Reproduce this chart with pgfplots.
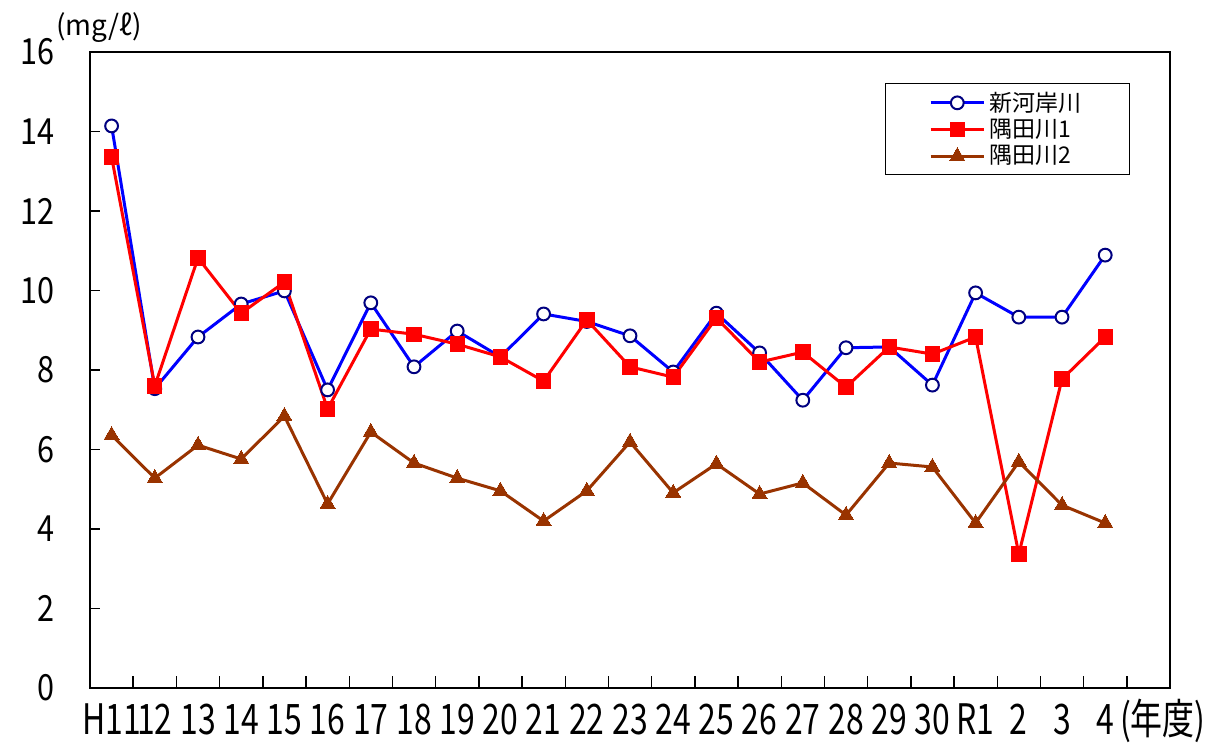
\documentclass[border=0pt]{standalone}
\usepackage{fontspec}
\setmainfont{Noto Sans CJK JP}
\newfontfamily\narrowfont{Noto Sans CJK JP}[FakeStretch=0.85]
\newfontfamily\xnarrowfont{Noto Sans CJK JP}[FakeStretch=0.76]
\usepackage{pgfplots}
\pgfplotsset{compat=1.18}
\definecolor{lblue}{RGB}{0,0,255}
\definecolor{lnavy}{RGB}{0,0,128}
\definecolor{lred}{RGB}{255,0,0}
\definecolor{lbrown}{RGB}{153,51,0}
\begin{document}
\begin{tikzpicture}
\useasboundingbox (-45pt,-28.5pt) rectangle (561.5pt,344pt);
\begin{axis}[
  at={(0,0)}, anchor=south west,
  scale only axis, width=540pt, height=318pt,
  xmin=-0.5, xmax=24.5, ymin=0, ymax=16,
  axis line style={line width=1.2pt},
  xtick={0,...,23},
  xticklabels={H11,12,13,14,15,16,17,18,19,20,21,22,23,24,25,26,27,28,29,30,R1,2,3,4\rlap{\hspace{3pt}(年度)}},
  minor xtick={0.5,1.5,...,23.5},
  x tick style={draw=none},
  minor x tick style={draw=black, line width=0.7pt},
  minor tick length=6pt,
  ytick={0,2,...,16},
  y tick style={draw=black, line width=0.7pt},
  major tick length=5pt,
  tick align=inside,
  xtick pos=bottom, ytick pos=left,
  /pgf/number format/assume math mode=true,
  xticklabel style={font=\xnarrowfont\fontsize{21}{24}\selectfont, text height=15pt, text depth=0pt, inner ysep=0pt, yshift=-8pt},
  yticklabel style={font=\narrowfont\fontsize{18}{20}\selectfont, xshift=-14pt},
  clip=false,
  legend style={at={(0.963,0.951)}, anchor=north east, draw=black, line width=0.5pt,
    font=\fontsize{11.5}{13}\selectfont, row sep=-1.5pt, inner xsep=22pt, inner ysep=2pt},
  legend cell align=left,
  legend image code/.code={\draw[mark repeat=2,mark phase=2] plot coordinates {(0cm,0cm) (0.47cm,0cm) (0.94cm,0cm)};},
]
\addplot[color=lblue, line width=1.5pt, mark=*, mark size=3.2pt, mark options={fill=white, draw=lnavy, line width=1pt}]
coordinates {(0,14.14)(1,7.53)(2,8.83)(3,9.66)(4,9.99)(5,7.50)(6,9.69)(7,8.08)(8,8.98)(9,8.33)(10,9.41)(11,9.22)(12,8.86)(13,7.95)(14,9.43)(15,8.43)(16,7.24)(17,8.56)(18,8.58)(19,7.62)(20,9.94)(21,9.33)(22,9.33)(23,10.89)};
\addlegendentry{新河岸川}
\addplot[color=lred, line width=1.5pt, mark=square*, mark size=3.6pt, mark options={fill=lred, draw=lred, line width=0pt}]
coordinates {(0,13.36)(1,7.60)(2,10.82)(3,9.43)(4,10.21)(5,7.02)(6,9.03)(7,8.90)(8,8.65)(9,8.33)(10,7.72)(11,9.26)(12,8.08)(13,7.82)(14,9.31)(15,8.20)(16,8.45)(17,7.57)(18,8.58)(19,8.40)(20,8.83)(21,3.37)(22,7.77)(23,8.83)};
\addlegendentry{隅田川1}
\addplot[color=lbrown, line width=1.5pt, mark=triangle*, mark size=4.3pt, mark options={fill=lbrown, draw=lbrown, line width=0pt}]
coordinates {(0,6.36)(1,5.28)(2,6.11)(3,5.76)(4,6.84)(5,4.63)(6,6.44)(7,5.66)(8,5.28)(9,4.96)(10,4.20)(11,4.96)(12,6.19)(13,4.91)(14,5.64)(15,4.88)(16,5.16)(17,4.35)(18,5.66)(19,5.56)(20,4.15)(21,5.69)(22,4.60)(23,4.15)};
\addlegendentry{隅田川2}
\node[font=\fontsize{14}{16}\selectfont] at ([xshift=4.5pt,yshift=12pt]rel axis cs:0,1) {(mg/ℓ)};
\end{axis}
\end{tikzpicture}
\end{document}
